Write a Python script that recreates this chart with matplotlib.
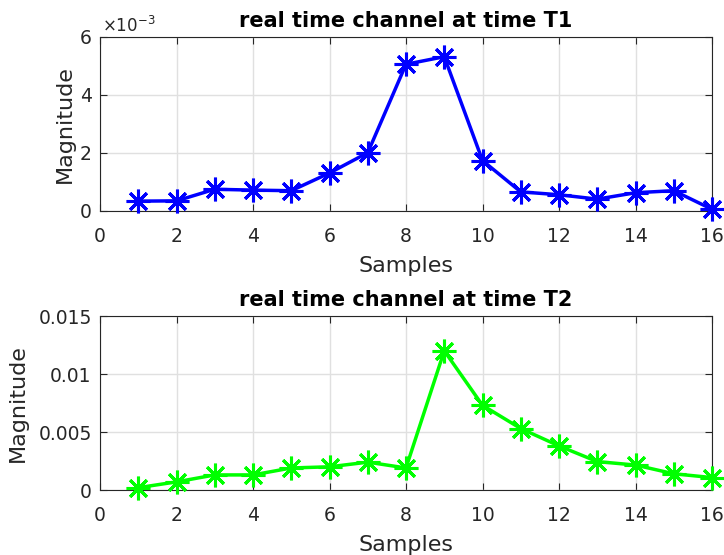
import matplotlib
matplotlib.use("Agg")
import matplotlib.pyplot as plt
from matplotlib.ticker import FuncFormatter, FixedLocator

samples = list(range(1, 17))
mag_t1 = [0.00034, 0.00035, 0.00075, 0.00072, 0.00070, 0.00131, 0.00201, 0.00506,
          0.00532, 0.00174, 0.00066, 0.00056, 0.00041, 0.00063, 0.00070, 0.00006]
mag_t2 = [0.0002, 0.0007, 0.0013, 0.0013, 0.0019, 0.0020, 0.0024, 0.0019,
          0.0120, 0.0073, 0.0053, 0.0038, 0.00245, 0.00215, 0.0014, 0.00107]
xticks = [0, 2, 4, 6, 8, 10, 12, 14, 16]
yticks_t1 = [0, 0.002, 0.004, 0.006]
yticks_t2 = [0, 0.005, 0.01, 0.015]
yticklabels_t2 = ["0", "0.005", "0.01", "0.015"]

plt.rcParams['font.family'] = ['DejaVu Sans']

fig = plt.figure(figsize=(7.24, 5.55), dpi=100)
axc = (0.15, 0.15, 0.15)
ax1 = fig.add_axes([100/724, 1-211/555, 612/724, 174/555])
ax2 = fig.add_axes([100/724, 1-490/555, 612/724, 174/555])

asterisk = (8, 2, 0)

def style(ax, ylabel_x):
    ax.set_xlim(0, 16)
    ax.xaxis.set_major_locator(FixedLocator(xticks))
    ax.grid(True, color=(0.88, 0.88, 0.88), linewidth=1.0)
    ax.set_axisbelow(True)
    ax.tick_params(direction='in', top=True, right=True, length=5, width=0.8,
                   colors=axc, labelsize=13.5, labelcolor=axc)
    ax.tick_params(axis='x', pad=11.5)
    ax.tick_params(axis='y', pad=6)
    for s in ax.spines.values():
        s.set_color(axc)
        s.set_linewidth(0.8)
    ax.set_xlabel("Samples", fontsize=16, color=axc, labelpad=7.5)
    ax.set_ylabel("Magnitude", fontsize=16, color=axc)
    ax.yaxis.set_label_coords(ylabel_x, 0.5)

ax1.plot(samples, mag_t1, color=(0, 0, 1), linewidth=2.5, marker=asterisk,
         markersize=17, markeredgewidth=2.2, clip_on=False, zorder=3)
ax1.set_ylim(0, 0.006)
ax1.yaxis.set_major_locator(FixedLocator(yticks_t1))
ax1.yaxis.set_major_formatter(FuncFormatter(lambda v, p: f"{v*1e3:g}"))
style(ax1, -0.041)
ax1.set_title("real time channel at time T1", fontsize=15, fontweight='bold',
              pad=7, color='black')
ax1.text(0.004, 1.008, r"$\times10^{-3}$", transform=ax1.transAxes, fontsize=12,
         color=axc, ha='left', va='bottom')

ax2.plot(samples, mag_t2, color=(0, 1, 0), linewidth=2.5, marker=asterisk,
         markersize=17, markeredgewidth=2.2, clip_on=False, zorder=3)
ax2.set_ylim(0, 0.015)
ax2.yaxis.set_major_locator(FixedLocator(yticks_t2))
ax2.set_yticklabels(yticklabels_t2)
style(ax2, -0.118)
ax2.set_title("real time channel at time T2", fontsize=15, fontweight='bold',
              pad=7, color='black')

fig.savefig("out.png", dpi=100)
